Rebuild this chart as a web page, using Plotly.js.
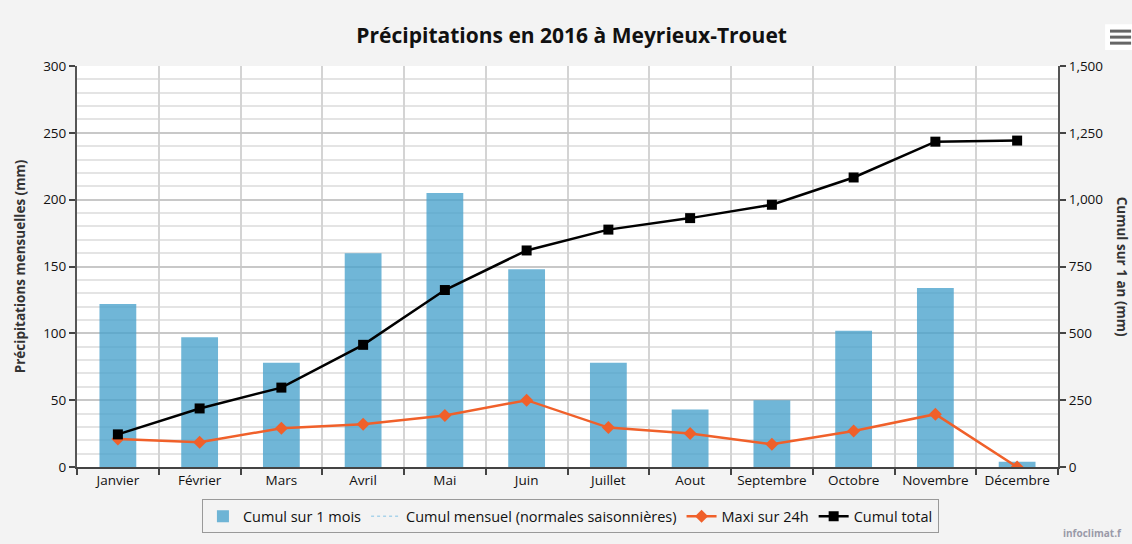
<!DOCTYPE html>
<html>
<head>
<meta charset="utf-8">
<script src="https://cdn.plot.ly/plotly-3.0.1.min.js"></script>
<style>
html,body{margin:0;padding:0;background:#f3f3f3;}
#chart{width:1132px;height:544px;}
</style>
</head>
<body>
<div id="chart"></div>
<script>
var months = ["Janvier","Février","Mars","Avril","Mai","Juin","Juillet","Aout","Septembre","Octobre","Novembre","Décembre"];
var cumulMois = [122, 97, 78, 160, 205, 148, 78, 43, 50, 102, 134, 4];
var maxi24h = [21, 18.5, 29, 32, 38.5, 50, 29.5, 25, 17, 27, 39.5, 0];
var cumulTotal = [122, 219, 297, 457, 662, 810, 888, 931, 981, 1083, 1217, 1221];
var leftTicks = [0, 50, 100, 150, 200, 250, 300];
var rightTicks = [0, 250, 500, 750, 1000, 1250, 1500];

var font = "Open Sans, DejaVu Sans, sans-serif";

var traces = [
  {
    type: "bar", name: "Cumul sur 1 mois", x: months, y: cumulMois,
    width: 0.45,
    marker: {color: "rgba(72,162,204,0.78)", line: {width: 0}},
    hoverinfo: "x+y"
  },
  {
    type: "scatter", mode: "lines", name: "Cumul mensuel (normales saisonnières)",
    x: [null], y: [null],
    line: {color: "#a9d3ea", width: 1.5, dash: "dot"}
  },
  {
    type: "scatter", mode: "lines+markers", name: "Maxi sur 24h", x: months, y: maxi24h,
    line: {color: "#f0602a", width: 2.5},
    marker: {symbol: "diamond", size: 10, color: "#f0602a"}
  },
  {
    type: "scatter", mode: "lines+markers", name: "Cumul total", x: months, y: cumulTotal,
    yaxis: "y2",
    line: {color: "#000000", width: 2.5},
    marker: {symbol: "square", size: 10, color: "#000000"}
  }
];

var layout = {
  width: 1132, height: 544,
  paper_bgcolor: "#f3f3f3",
  plot_bgcolor: "#ffffff",
  margin: {l: 77, r: 74, t: 66, b: 76},
  font: {family: font, size: 13, color: "#111"},
  title: {
    text: "<b>Précipitations en 2016 à Meyrieux-Trouet</b>",
    font: {family: font, size: 21, color: "#111"},
    x: 0.505, xanchor: "center", y: 0.935, yanchor: "middle"
  },
  showlegend: true,
  xaxis: {
    type: "category",
    range: [-0.5, 11.5],
    tickson: "boundaries",
    ticks: "outside", ticklen: 6, tickcolor: "#444", tickwidth: 2,
    showline: true, linecolor: "#444", linewidth: 2,
    showgrid: true, gridcolor: "#d4d4d4", gridwidth: 2,
    tickfont: {family: font, size: 13.5, color: "#111"},
    fixedrange: true
  },
  yaxis: {
    range: [0, 300],
    tickvals: leftTicks,
    ticks: "outside", ticklen: 6, tickcolor: "#444", tickwidth: 2,
    showline: true, linecolor: "#555", linewidth: 2,
    showgrid: true, gridcolor: "#c8c8c8", gridwidth: 2,
    zeroline: false,
    minor: {dtick: 10, showgrid: true, gridcolor: "#e4e4e4", gridwidth: 2},
    tickfont: {family: font, size: 13.5, color: "#111"},
    title: {text: "<b>Précipitations mensuelles (mm)</b>", font: {family: font, size: 13.5, color: "#333"}, standoff: 14}
  },
  yaxis2: {
    range: [0, 1500],
    overlaying: "y", side: "right",
    tickvals: rightTicks, tickformat: ",d",
    ticks: "outside", ticklen: 6, tickcolor: "#444", tickwidth: 2,
    showline: true, linecolor: "#555", linewidth: 2,
    showgrid: false, zeroline: false,
    tickfont: {family: font, size: 13.5, color: "#111"}
  },
  legend: {
    orientation: "h",
    x: 0.503, xanchor: "center",
    y: -0.078, yanchor: "top",
    bgcolor: "#f3f3f3",
    bordercolor: "#999", borderwidth: 1,
    font: {family: font, size: 14.5, color: "#111"},
    itemwidth: 30,
    traceorder: "normal"
  },
  annotations: [
    {
      text: "<b>Cumul sur 1 an (mm)</b>", textangle: 90,
      xref: "paper", yref: "paper", x: 1.066, y: 0.5,
      xanchor: "center", yanchor: "middle", showarrow: false,
      font: {family: font, size: 13.5, color: "#333"}
    },
    {
      text: "<b>infoclimat.f</b>",
      xref: "paper", yref: "paper", x: 1.003, y: -0.165,
      xanchor: "left", yanchor: "middle", showarrow: false,
      font: {family: font, size: 10, color: "#9a9aa8"}
    }
  ],
  shapes: [
    {type: "rect", xref: "paper", yref: "paper", x0: 1.048, x1: 1.0765, y0: 1.04, y1: 1.104,
     fillcolor: "#ffffff", line: {width: 0}, layer: "below"},
    {type: "line", xref: "paper", yref: "paper", x0: 1.053, x1: 1.0745, y0: 1.087, y1: 1.087, line: {color: "#666", width: 3}},
    {type: "line", xref: "paper", yref: "paper", x0: 1.053, x1: 1.0745, y0: 1.072, y1: 1.072, line: {color: "#666", width: 3}},
    {type: "line", xref: "paper", yref: "paper", x0: 1.053, x1: 1.0745, y0: 1.057, y1: 1.057, line: {color: "#666", width: 3}}
  ]
};

Plotly.newPlot("chart", traces, layout, {displayModeBar: false, responsive: false});
</script>
</body>
</html>
